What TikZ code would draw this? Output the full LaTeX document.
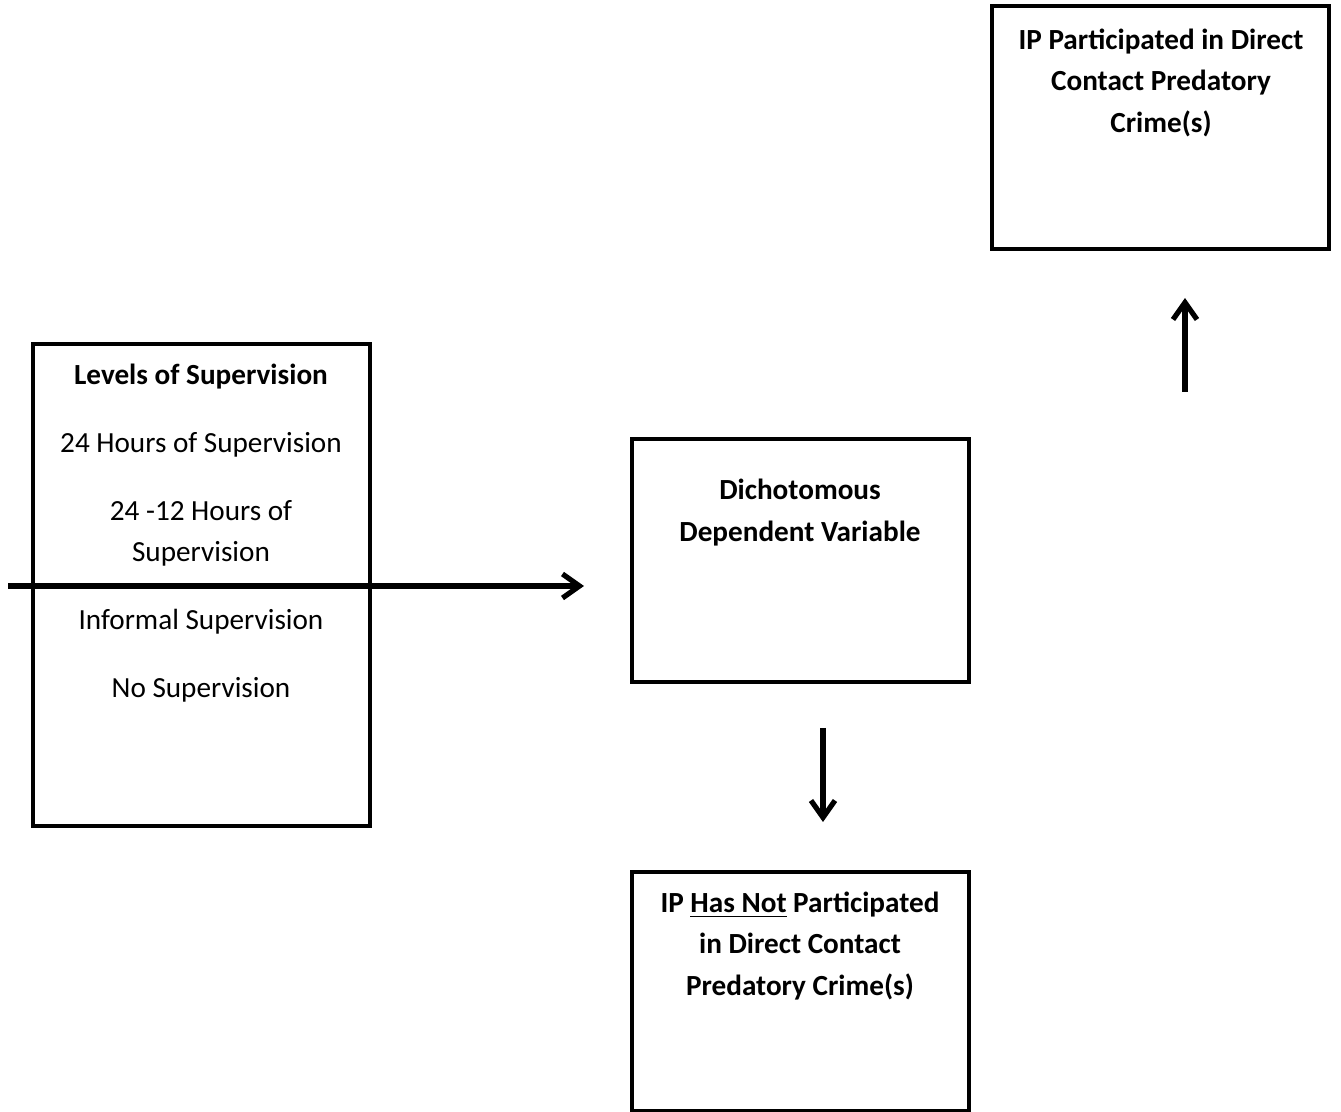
\documentclass[tikz,border=0pt]{standalone}
\usepackage{fontspec}
\setmainfont{Carlito}
\usetikzlibrary{arrows.meta}
\begin{document}
\begin{tikzpicture}[x=0.5pt,y=-0.5pt,
  box/.style={draw=black, line width=2pt, inner sep=0pt, outer sep=0pt, anchor=north west},
  txt/.style={anchor=base, inner sep=0pt, font=\fontsize{14.6pt}{21pt}\selectfont},
  btxt/.style={txt, font=\fontsize{14.6pt}{21pt}\selectfont\bfseries},
  arr/.style={line width=2.6pt, -{Straight Barb[length=8.5pt,width=12pt,line width=2.6pt]}}]
\useasboundingbox (0,0) rectangle (1341,1112);
% boxes
\node[box, minimum width=168.5pt, minimum height=241pt] (lev) at (33,344) {};
\node[box, minimum width=168.5pt, minimum height=121.5pt] (dv) at (632,439) {};
\node[box, minimum width=168.5pt, minimum height=121.5pt] (yes) at (992,6) {};
\node[box, minimum width=168.5pt, minimum height=119.5pt] (no) at (632,872) {};
% left box text
\node[btxt] (l1) at (201,385) {Levels of Supervision};
\node[txt] (l2) at (201,453) {24 Hours of Supervision};
\node[txt] (l3) at (201,521) {24 -12 Hours of};
\node[txt] (l4) at (201,562) {Supervision};
\node[txt] (l5) at (201,630) {Informal Supervision};
\node[txt] (l6) at (201,698) {No Supervision};
% middle
\node[btxt] (d1) at (800,500) {Dichotomous};
\node[btxt] (d2) at (800,542) {Dependent Variable};
% top right
\node[btxt] (y1) at (1161,50) {IP Participated in Direct};
\node[btxt] (y2) at (1161,91) {Contact Predatory};
\node[btxt] (y3) at (1161,133) {Crime(s)};
% bottom
\node[btxt] (n1) at (800,913) {IP \underline{Has Not} Participated};
\node[btxt] (n2) at (800,954) {in Direct Contact};
\node[btxt] (n3) at (800,996) {Predatory Crime(s)};
% arrows
\coordinate (hs) at (8,586);
\coordinate (he) at (584,586);
\coordinate (us) at (1185,392);
\coordinate (ue) at (1185,298);
\coordinate (ds) at (823,728);
\coordinate (de) at (823,822);
\draw[arr] (hs) -- (he);
\draw[arr] (us) -- (ue);
\draw[arr] (ds) -- (de);
\end{tikzpicture}
\end{document}
